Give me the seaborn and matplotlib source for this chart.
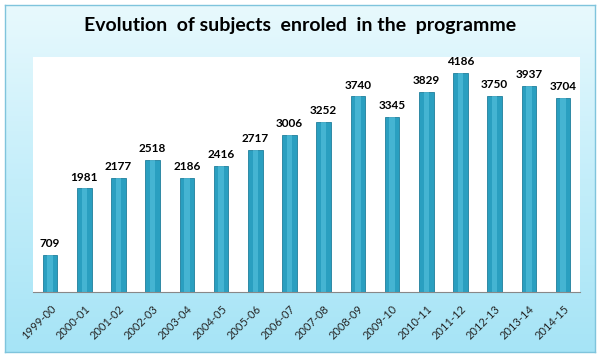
import numpy as np
import pandas as pd
import matplotlib
matplotlib.use('Agg')
import matplotlib.pyplot as plt
import seaborn as sns

# Data
seasons = ['1999-00', '2000-01', '2001-02', '2002-03', '2003-04', '2004-05',
           '2005-06', '2006-07', '2007-08', '2008-09', '2009-10', '2010-11',
           '2011-12', '2012-13', '2013-14', '2014-15']
subjects = [709, 1981, 2177, 2518, 2186, 2416, 2717, 3006, 3252, 3740,
            3345, 3829, 4186, 3750, 3937, 3704]

df = pd.DataFrame({'season': seasons, 'subjects': subjects})

sns.set_style('white')
plt.rcParams['font.family'] = ['Lato', 'DejaVu Sans']

fig = plt.figure(figsize=(6, 3.59), dpi=100)
fig.patch.set_facecolor('white')

# Background panel with a light-blue vertical gradient
bg = fig.add_axes([0.008, 0.02, 0.984, 0.965])
grad = np.linspace(0, 1, 256).reshape(-1, 1)
cmap = matplotlib.colors.LinearSegmentedColormap.from_list(
    'bg', ['#e8f9fd', '#c4eefa', '#a6e4f6'])
bg.imshow(grad, aspect='auto', cmap=cmap, extent=[0, 1, 0, 1], origin='upper')
bg.set_xlim(0, 1)
bg.set_ylim(0, 1)
bg.set_xticks([])
bg.set_yticks([])
for s in bg.spines.values():
    s.set_color('#7fc4dc')
    s.set_linewidth(1.0)

ax = fig.add_axes([0.055, 0.187, 0.912, 0.654])
ax.set_facecolor('white')

sns.barplot(data=df, x='season', y='subjects', ax=ax, color='#2a9fc0',
            width=0.43, saturation=1, edgecolor='#1f7f9c', linewidth=0.6)
# lighter highlight to give the bars a rounded look
sns.barplot(data=df, x='season', y='subjects', ax=ax, color='#5cc6e2',
            width=0.16, saturation=1, linewidth=0, alpha=0.55)

ax.set_ylim(0, 4490)
ax.set_xlim(-0.5, len(seasons) - 0.5)
ax.set_xlabel('')
ax.set_ylabel('')
ax.set_yticks([])

for i, v in enumerate(subjects):
    ax.text(i, v + 110, str(v), ha='center', va='bottom',
            fontsize=8.5, fontweight='bold', color='black')

ax.set_xticks(range(len(seasons)))
ax.set_xticklabels(seasons, rotation=45, ha='right', rotation_mode='anchor',
                   fontsize=8)
ax.tick_params(axis='x', which='major', length=0, pad=8)
ax.set_xticks(np.arange(-0.5, len(seasons), 1), minor=True)
ax.tick_params(axis='x', which='minor', length=4, color='#888888', width=0.8)

for side in ['left', 'right', 'top']:
    ax.spines[side].set_visible(False)
ax.spines['bottom'].set_color('#888888')
ax.spines['bottom'].set_linewidth(0.8)

fig.text(0.5, 0.928, 'Evolution  of subjects  enroled  in the  programme',
         ha='center', va='center', fontsize=14, fontweight='bold',
         color='black')

fig.savefig('out.png', dpi=100)
